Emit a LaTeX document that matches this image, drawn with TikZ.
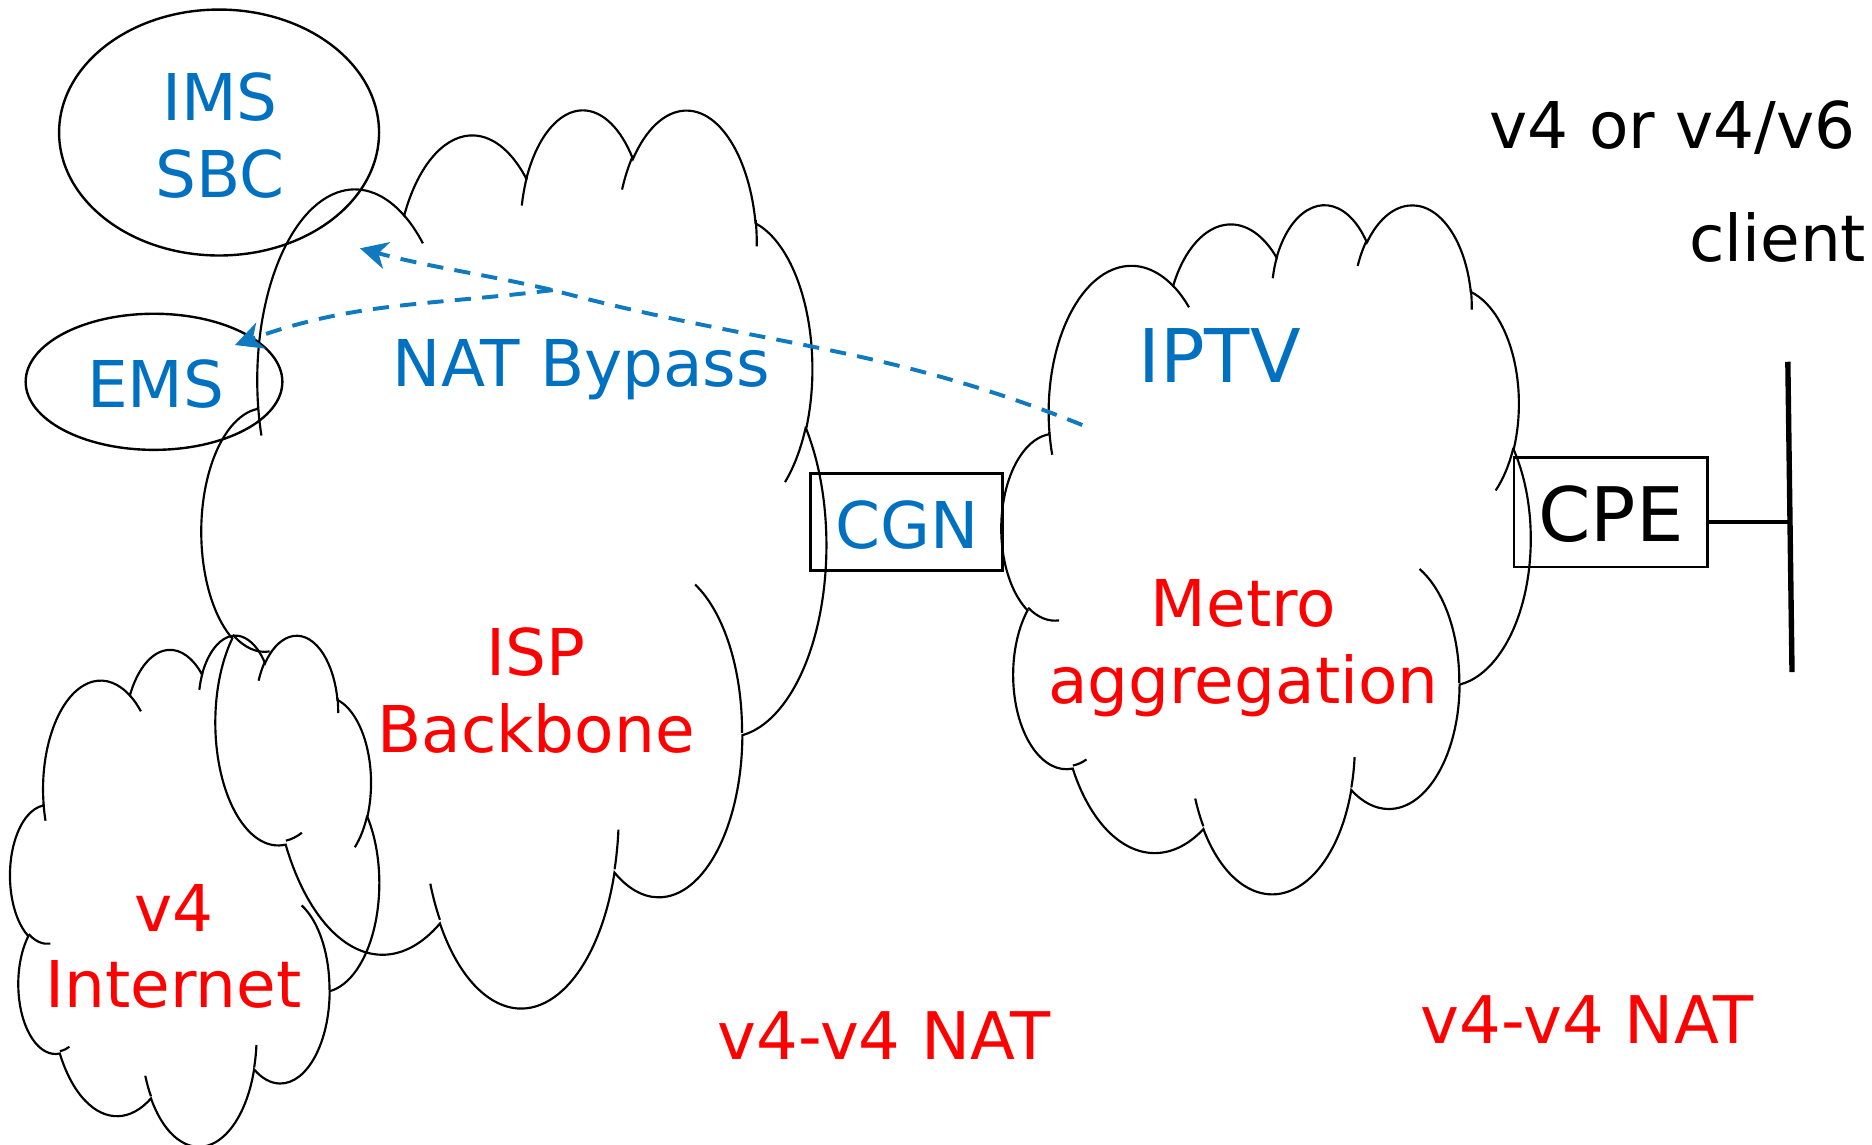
\documentclass[tikz,border=0pt]{standalone}
\usepackage{fontspec}
\setmainfont{DejaVu Sans}
\usetikzlibrary{shapes.geometric,arrows.meta}
\definecolor{txtblue}{HTML}{0070C0}
\definecolor{arrblue}{RGB}{16,122,192}
\definecolor{txtred}{HTML}{FF0000}
\makeatletter
\pgfmathdeclarefunction{ooang}{3}{%
  \begingroup
  \pgfmathparse{atan2((#2)*sin(#1),(#3)*cos(#1))-(#1)}%
  \let\ooD\pgfmathresult
  \pgfmathparse{(#1)+(\ooD)-360*round((\ooD)/360)}%
  \pgfmath@smuggleone\pgfmathresult
  \endgroup}
\makeatother
\tikzset{
  cloudline/.style={line width=1.8pt, black},
  oo/.style n args={4}{x radius=#1, y radius=#2, start angle={ooang(#3,#1,#2)}, end angle={ooang(#4,#1,#2)}},
  natarrow/.style={arrblue, line width=3.3pt, dash pattern=on 13.5pt off 9.5pt, -{Stealth[length=23pt,width=23pt,inset=7pt]}},
  lbl/.style={inner sep=0pt, outer sep=0pt, font=\fontsize{54}{64.3}\selectfont},
  boxnode/.style={draw=black, line width=2.2pt, inner sep=0pt, outer sep=0pt, text depth=0pt},
  ellnode/.style={draw=black, ellipse, line width=2pt, inner sep=0pt, outer sep=0pt}
}
\newcommand\oocloud[4]{%
\begin{scope}[shift={(#1,#2)},xscale=#3/43.2,yscale=#4/43.2]
\draw[cloudline] (3.900,14.370)
 arc[oo={6.753}{9.190}{-190.487483}{-66.70695}]
 arc[oo={5.333}{7.267}{-144.102383}{-54.15715}]
 arc[oo={4.365}{5.945}{-145.807917}{-46.0849}]
 arc[oo={4.857}{6.595}{-130.986067}{-13.744334}]
 arc[oo={5.333}{7.273}{-78.708883}{30.318034}]
 arc[oo={6.775}{9.220}{-46.26725}{84.00175}]
 arc[oo={5.785}{7.867}{0.625017}{114.65835}]
 arc[oo={6.752}{9.215}{22.4516}{137.62415}]
 arc[oo={7.720}{10.543}{66.242633}{141.95365}]
 arc[oo={4.360}{5.918}{-274.942083}{-128.206516}]
 arc[oo={4.345}{5.945}{-246.8285}{-94.30965}]
 -- cycle;
\draw[cloudline]
 (4.693,26.177) arc[oo={4.345}{5.945}{86.742}{113.1715}]
 (6.928,34.899) arc[oo={4.360}{5.918}{73.610467}{85.057934}]
 (16.478,39.090) arc[oo={6.752}{9.215}{137.62415}{151.70525}]
 (28.827,34.751) arc[oo={6.752}{9.215}{6.453267}{22.451617}]
 (34.129,22.954) arc[oo={5.785}{7.867}{-70.29235}{0.625017}]
 (41.798,15.354) arc[oo={5.333}{7.273}{30.318033}{58.069533}]
 (38.324,5.426) arc[oo={4.857}{6.595}{-13.744333}{1.114567}]
 (29.078,3.952) arc[oo={4.857}{6.595}{-149.18145}{-130.986083}]
 (22.141,4.720) arc[oo={4.365}{5.945}{-163.494267}{-145.807917}]
 (14.000,5.192) arc[oo={6.753}{9.190}{-66.70695}{-54.3876}]
 (4.127,15.789) arc[oo={6.753}{9.190}{157.65435}{169.512517}];
\end{scope}}
\begin{document}
\begin{tikzpicture}[x=1pt,y=-1pt]
\useasboundingbox (0,0) rectangle (1568,959);
% clouds
\oocloud{169}{90}{523}{752}
\oocloud{839}{170}{443}{577}
\oocloud{8.6}{531}{309}{428}
% ellipses
\node[ellnode, minimum width=268pt, minimum height=206pt] (ims) at (183.5,111) {};
\node[ellnode, minimum width=215pt, minimum height=114pt] (ems) at (129,319.8) {};
% boxes
\node[boxnode, text=txtblue, minimum width=160.8pt, minimum height=81.6pt, text height=44pt, font=\fontsize{54}{64}\selectfont] (cgn) at (759.4,437.2) {CGN};
\node[boxnode, text=black, minimum width=162pt, minimum height=92pt, text height=49.3pt, font=\fontsize{63}{72}\selectfont] (cpe) at (1349.25,429) {CPE};
% client bus
\coordinate (busTop) at (1497.5,303);
\coordinate (busBot) at (1501,563);
\draw[line width=4.5pt] (busTop) -- (busBot);
\draw[line width=3.3pt] ([yshift=-8pt]cpe.east) -- ([yshift=-8pt]cpe.east -| busTop);
% labels
\node[lbl, text=txtblue, anchor=north, align=center] (imstxt) at (184.3,60.8) {IMS\\SBC};
\node[lbl, text=txtblue, anchor=base] (emstxt) at (130.5,341) {EMS};
\node[lbl, text=txtblue, anchor=base] (nattxt) at (487,324) {NAT Bypass};
\node[lbl, text=txtblue, anchor=base, font=\fontsize{62}{72}\selectfont] (iptvtxt) at (1021.6,320) {IPTV};
\node[lbl, text=txtred, anchor=north, align=center] (metrotxt) at (1041.5,485.7) {Metro\\aggregation};
\node[lbl, text=txtred, anchor=north, align=center] (isptxt) at (449,525.8) {ISP\\Backbone};
\node[lbl, text=txtred, anchor=north, align=center] (v4txt) at (145.5,740.6) {v4\\Internet};
\node[lbl, text=txtred, anchor=base, font=\fontsize{55}{66}\selectfont] (natA) at (740.4,887.8) {v4-v4 NAT};
\node[lbl, text=txtred, anchor=base, font=\fontsize{55}{66}\selectfont] (natB) at (1329.6,873.8) {v4-v4 NAT};
\node[lbl, text=black, anchor=base] (client1) at (1401,124.2) {v4 or v4/v6};
\node[lbl, text=black, anchor=base] (client2) at (1489,219.2) {client};
% NAT bypass arrows
\coordinate (pA) at (906.5,356);
\coordinate (pB) at (463,243);
\coordinate (tipIMS) at (301.5,208);
\coordinate (tipEMS) at (196.8,289);
\draw[natarrow] (pA) to[out=158,in=-15] (pB) to[out=167,in=-15] (tipIMS);
\draw[natarrow] (pB) to[out=187,in=20] (tipEMS);
\end{tikzpicture}
\end{document}
